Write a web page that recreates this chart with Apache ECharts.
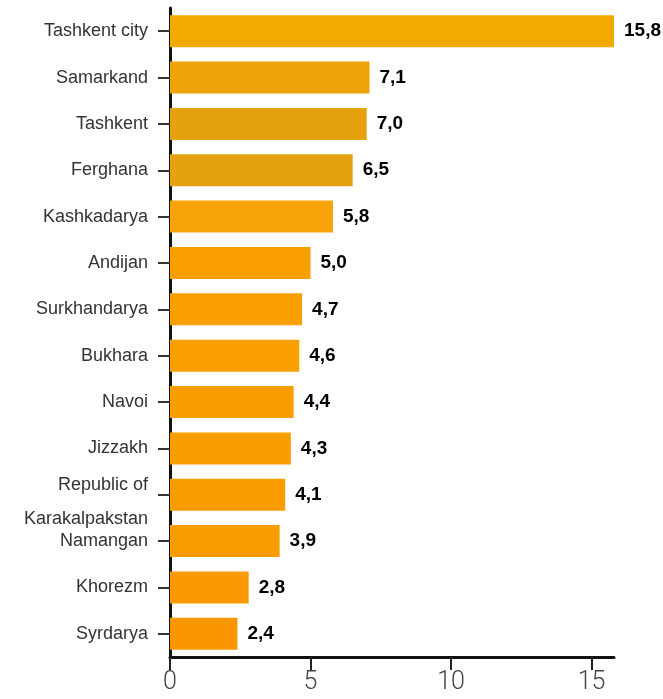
<!DOCTYPE html>
<html>
<head>
<meta charset="utf-8">
<script src="https://cdn.jsdelivr.net/npm/echarts@6/dist/echarts.min.js"></script>
<style>
  html, body { margin: 0; padding: 0; background: #fff; }
  #main { width: 663px; height: 699px; }
</style>
</head>
<body>
<div id="main"></div>
<script>
  // regions, top to bottom
  var regions = ['Tashkent city', 'Samarkand', 'Tashkent', 'Ferghana', 'Kashkadarya', 'Andijan',
    'Surkhandarya', 'Bukhara', 'Navoi', 'Jizzakh', 'Republic of\nKarakalpakstan', 'Namangan',
    'Khorezm', 'Syrdarya'];
  var values = [15.8, 7.1, 7.0, 6.5, 5.8, 5.0, 4.7, 4.6, 4.4, 4.3, 4.1, 3.9, 2.8, 2.4];
  var barColors = ['#f2aa00', '#eda30a', '#e6a20c', '#e4a30e', '#f7a40a', '#f9a000', '#f9a000',
    '#f9a000', '#f99e00', '#f99e00', '#f99c00', '#f99c00', '#fa9900', '#fa9700'];
  var xTicks = [0, 5, 10, 15];

  var myChart = echarts.init(document.getElementById('main'));

  var data = [];
  for (var i = 0; i < values.length; i++) {
    data.push({ value: values[i], itemStyle: { color: barColors[i] } });
  }

  var option = {
    animation: false,
    grid: { left: 170, right: 49, top: 8, bottom: 42, containLabel: false },
    xAxis: {
      type: 'value',
      min: 0,
      max: 15.8,
      splitLine: { show: false },
      axisLine: { show: true, lineStyle: { color: '#111', width: 3 } },
      axisTick: { show: true, length: 13, customValues: xTicks, lineStyle: { color: '#222', width: 2 } },
      axisLabel: {
        customValues: xTicks,
        margin: 13,
        color: '#444',
        fontSize: 25,
        fontFamily: 'Roboto',
        fontWeight: 300
      }
    },
    yAxis: {
      type: 'category',
      inverse: true,
      data: regions,
      axisLine: { show: true, lineStyle: { color: '#111', width: 3 } },
      axisTick: { show: true, length: 12, alignWithLabel: true, lineStyle: { color: '#333', width: 2 } },
      axisLabel: {
        margin: 22,
        color: '#333',
        fontSize: 18,
        fontFamily: 'Liberation Sans',
        lineHeight: 34,
        formatter: function (v) {
          return v.indexOf('\n') >= 0 ? '{k|' + v + '}' : v;
        },
        rich: {
          k: { fontSize: 18, fontFamily: 'Liberation Sans', color: '#333', lineHeight: 34, padding: [14, 0, 0, 0] }
        }
      }
    },
    series: [
      {
        type: 'bar',
        data: data,
        barWidth: '69%',
        label: {
          show: true,
          position: 'right',
          distance: 10,
          color: '#000',
          fontSize: 19,
          fontWeight: 'bold',
          fontFamily: 'Liberation Sans',
          formatter: function (p) { return p.value.toFixed(1).replace('.', ','); }
        }
      }
    ]
  };
  myChart.setOption(option);
</script>
</body>
</html>
